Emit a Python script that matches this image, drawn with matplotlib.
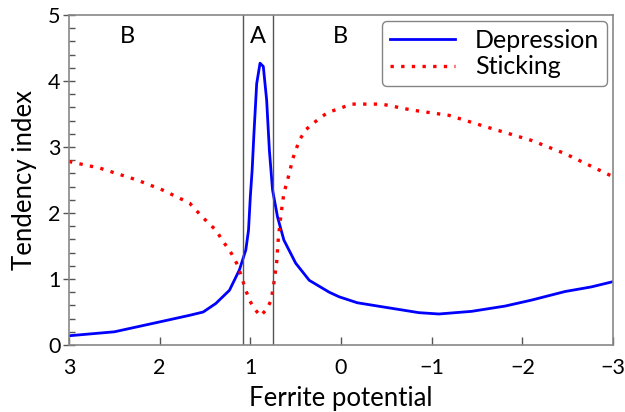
import numpy as np
import matplotlib
matplotlib.use("Agg")
import matplotlib.pyplot as plt
from matplotlib.ticker import MultipleLocator

plt.rcParams['font.family'] = ['Lato', 'DejaVu Sans']

# Depression curve
dep_x = [3.0, 2.5, 2.0, 1.67, 1.52, 1.38, 1.23, 1.12, 1.05, 1.02, 1.0, 0.98, 0.96,
         0.93, 0.893, 0.857, 0.82, 0.79, 0.755, 0.70, 0.63, 0.50, 0.35, 0.13, 0.02,
         -0.18, -0.45, -0.86, -1.08, -1.44, -1.81, -2.1, -2.47, -2.76, -3.0]
dep_y = [0.14, 0.20, 0.35, 0.45, 0.50, 0.63, 0.83, 1.14, 1.44, 1.74, 2.25, 2.65, 3.21,
         3.96, 4.27, 4.22, 3.71, 2.95, 2.35, 1.94, 1.59, 1.24, 0.98, 0.80, 0.73,
         0.64, 0.58, 0.49, 0.47, 0.51, 0.59, 0.68, 0.81, 0.88, 0.96]

# Sticking curve
stk_x = [3.0, 2.66, 2.25, 1.97, 1.67, 1.53, 1.38, 1.31, 1.21, 1.14, 1.08, 1.05, 1.01,
         0.96, 0.89, 0.82, 0.77, 0.74, 0.71, 0.69, 0.66, 0.63, 0.58, 0.53, 0.46,
         0.39, 0.26, 0.15, -0.12, -0.45, -0.78, -1.19, -1.59, -2.1, -2.47, -3.0]
stk_y = [2.78, 2.68, 2.5, 2.35, 2.15, 1.94, 1.74, 1.59, 1.39, 1.21, 0.96, 0.83, 0.68,
         0.56, 0.44, 0.54, 0.68, 0.94, 1.24, 1.64, 2.0, 2.3, 2.55, 2.83, 3.1,
         3.26, 3.41, 3.52, 3.65, 3.65, 3.56, 3.48, 3.31, 3.1, 2.9, 2.55]

region_bounds = [1.08, 0.75]
region_labels = ['B', 'A', 'B']
region_label_x = [2.36, 0.92, 0.01]

fig = plt.figure(figsize=(6.25, 4.12), dpi=100)
ax = fig.add_axes([0.1104, 0.1626, 0.8704, 0.801])

ax.plot(dep_x, dep_y, color='#0000ff', lw=2.0, label='Depression')
ax.plot(stk_x, stk_y, color='#ff0000', lw=2.4, dashes=(1, 2.2), label='Sticking')

for b in region_bounds:
    ax.axvline(b, color='#555555', lw=1.0)
for lab, lx in zip(region_labels, region_label_x):
    ax.text(lx, 4.68, lab, fontsize=17, ha='center', va='center')

ax.set_xlim(3, -3)
ax.set_ylim(0, 5)
ax.xaxis.set_major_locator(MultipleLocator(1))
ax.yaxis.set_major_locator(MultipleLocator(1))
ax.yaxis.set_minor_locator(MultipleLocator(0.2))
ax.tick_params(axis='x', direction='in', length=6, width=1, color='#555555',
               labelsize=15.5, pad=9)
ax.tick_params(axis='y', which='major', direction='inout', length=8, width=1,
               color='#555555', labelsize=15.5, pad=2)
ax.tick_params(axis='y', which='minor', direction='in', length=4, width=1,
               color='#555555')
for s in ax.spines.values():
    s.set_color('#888888')
    s.set_linewidth(1.2)

ax.set_xlabel('Ferrite potential', fontsize=18.5, labelpad=6)
ax.set_ylabel('Tendency index', fontsize=18.5, labelpad=8)

leg = ax.legend(loc='upper right', fontsize=18, frameon=True, fancybox=True,
                handlelength=2.6, borderaxespad=0.25, labelspacing=0.15,
                borderpad=0.3, handletextpad=0.8)
leg.get_frame().set_edgecolor('#666666')
leg.get_frame().set_linewidth(1.0)

fig.savefig('out.png', dpi=100)
